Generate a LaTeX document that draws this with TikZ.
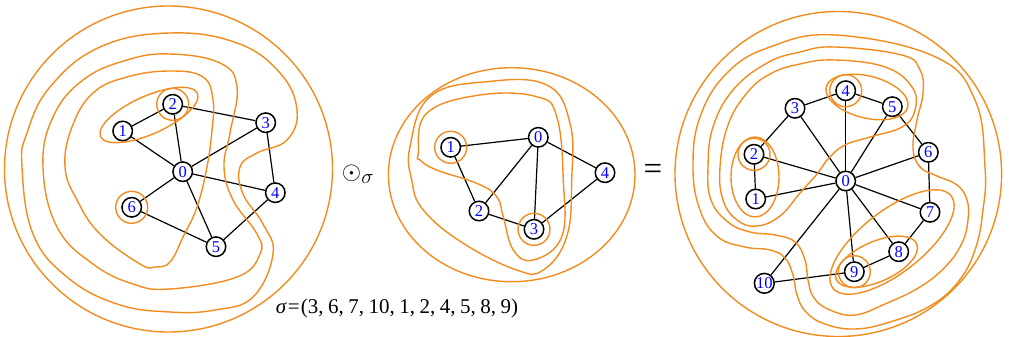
\documentclass[tikz,border=0pt]{standalone}
\usepackage{fontspec}
\setmainfont{Liberation Serif}
\usepackage{amsmath}
\usepackage{tikz}
\usepackage{xcolor}
\definecolor{bandorange}{RGB}{243,140,30}
\definecolor{labelblue}{RGB}{0,0,255}

\begin{document}
\begin{tikzpicture}[x=1pt,y=-1pt,
  vtx/.style={circle,draw=black,line width=1.5pt,fill=white,inner sep=0pt,minimum size=19.5pt,text=labelblue,font=\fontsize{16.5}{16.5}\selectfont},
  link/.style={line width=1.2pt},
  band/.style={draw=bandorange,line width=1.4pt}]
\useasboundingbox (0,0) rectangle (1009,337);
\node[vtx] (a0) at (182.7,171.7) {0};
\node[vtx] (a1) at (122.7,131) {1};
\node[vtx] (a2) at (172.7,104.3) {2};
\node[vtx] (a3) at (265.7,122.7) {3};
\node[vtx] (a4) at (275.3,192.7) {4};
\node[vtx] (a5) at (216,246.7) {5};
\node[vtx] (a6) at (131.7,207.3) {6};
\draw[link] (a1)--(a2) (a1)--(a0) (a2)--(a0) (a2)--(a3) (a3)--(a0) (a3)--(a4);
\draw[link] (a0)--(a4) (a0)--(a5) (a0)--(a6) (a6)--(a5) (a5)--(a4);
\draw[band] (a2) circle [radius=16];
\draw[band] (a6) circle [radius=16];
\draw[band,rotate around={24:(149,115)}] (149,115) ellipse [x radius=53, y radius=19];
\draw[band] plot[smooth cycle,tension=0.7] coordinates {(65,167) (72,127) (93,93) (127,77) (170,71) (203,77) (213,100) (212,130) (207,167) (197,207) (183,237) (170,262) (155,267) (140,264) (100,234) (77,200)};
\draw[band] plot[smooth cycle,tension=0.7] coordinates {(43,167) (53,117) (83,80) (127,60) (170,54) (220,63) (237,87) (230,133) (224,167) (233,200) (257,234) (260,254) (237,277) (170,289) (133,284) (93,264) (57,227)};
\draw[band] plot[smooth cycle,tension=0.7] coordinates {(22,167) (27,133) (50,87) (100,47) (170,33) (237,43) (280,73) (297,110) (287,140) (257,153) (240,167) (243,194) (263,224) (273,254) (253,297) (215,310) (170,312) (117,304) (67,277) (33,234)};
\draw[band] (168.5,169) ellipse [x radius=164, y radius=163];

\node (odot) at (358,174) {\fontsize{31}{31}\selectfont$\odot_{\sigma}$};

\node[vtx] (b0) at (538.3,137.3) {0};
\node[vtx] (b1) at (450.7,147.3) {1};
\node[vtx] (b2) at (479,211) {2};
\node[vtx] (b3) at (534,229.3) {3};
\node[vtx] (b4) at (605,172.7) {4};
\draw[link] (b1)--(b0) (b1)--(b2) (b0)--(b2) (b0)--(b3) (b0)--(b4) (b2)--(b3) (b3)--(b4);
\draw[band] (b1) circle [radius=16];
\draw[band] (b3) circle [radius=16];
\draw[band] plot[smooth cycle,tension=0.7] coordinates {(418.3,153.3) (426.7,113.3) (480,95) (536.7,96.7) (556.7,116.7) (563.3,180) (561.7,236.7) (533.3,260) (513.3,250) (503.3,216.7) (496.7,196.7) (476.7,183.3) (436.7,170) (420,160)};
\draw[band] plot[smooth cycle,tension=0.7] coordinates {(410,146.7) (430,96.7) (486.7,81.7) (546.7,85) (570,123.3) (571.7,180) (566.7,236.7) (543.3,270) (516.7,270) (463.3,243.3) (423.3,210) (411.7,180)};
\draw[band] (511.7,174.7) ellipse [x radius=123.3, y radius=107];

\node (eq) at (653,172) {\fontsize{33}{33}\selectfont=};

\node[vtx] (c0) at (845.7,181) {0};
\node[vtx] (c1) at (755.7,199) {1};
\node[vtx] (c2) at (754,154.3) {2};
\node[vtx] (c3) at (795,108.3) {3};
\node[vtx] (c4) at (845.7,90.7) {4};
\node[vtx] (c5) at (892.3,106.7) {5};
\node[vtx] (c6) at (928.3,152.3) {6};
\node[vtx] (c7) at (930,212.3) {7};
\node[vtx] (c8) at (898.7,251.7) {8};
\node[vtx] (c9) at (854.3,271.7) {9};
\node[vtx] (c10) at (764.3,283.3) {10};
\foreach \i in {1,...,10} {\draw[link] (c0)--(c\i);}
\draw[link] (c1)--(c2)--(c3)--(c4)--(c5)--(c6)--(c7)--(c8)--(c9)--(c10);
\draw[band] (c2) circle [radius=16];
\draw[band] (c4) circle [radius=16];
\draw[band] (c9) circle [radius=16];
\draw[band] (755,177) ellipse [x radius=24, y radius=40];
\draw[band,rotate around={-14:(867,97)}] (867,97) ellipse [x radius=42, y radius=21];
\draw[band,rotate around={24:(876.5,261.7)}] (876.5,261.7) ellipse [x radius=44, y radius=20];
\draw[band,rotate around={38:(892,242)}] (892,242) ellipse [x radius=75, y radius=31];
\draw[band] plot[smooth cycle,tension=0.7] coordinates {(835,60) (800,64) (770,74) (746.7,93.3) (728,125) (720,167) (723,200) (737,220) (757,226) (780,216) (800,193) (817,174) (829,158) (845,145) (870,137) (902,127) (915,110) (912,87) (885,67)};
\draw[band] plot[smooth cycle,tension=0.7] coordinates {(708,167) (713,127) (733,90) (767,63) (800,52) (835,47) (901.7,55) (920,70) (923,93) (917,120) (913,148) (920,167) (937,176) (957,185) (967,200) (968,220) (962,243) (946,266) (920,287) (885,304) (855,315) (830,310) (814,298) (808,280) (805,260) (795,242) (775,235) (750,232) (728,222) (711,200)};
\draw[band] plot[smooth cycle,tension=0.7] coordinates {(693,167) (700,117) (727,73) (770,47) (835,35) (935,56.7) (975,100) (985,167) (983,210) (975,250) (958,282) (930,306) (890,322) (855,329) (825,324) (806,312) (797,295) (793,275) (785,258) (770,250) (745,247) (718,237) (700,210)};
\draw[band] (838.3,174) ellipse [x radius=163.3, y radius=162.5];

\node (perm) at (397,308) {\fontsize{21}{21}\selectfont\textit{σ}\kern1pt=\kern1pt(3,\hspace{4.5pt}6,\hspace{4.5pt}7,\hspace{4.5pt}10,\hspace{4.5pt}1,\hspace{4.5pt}2,\hspace{4.5pt}4,\hspace{4.5pt}5,\hspace{4.5pt}8,\hspace{4.5pt}9)};
\end{tikzpicture}
\end{document}
